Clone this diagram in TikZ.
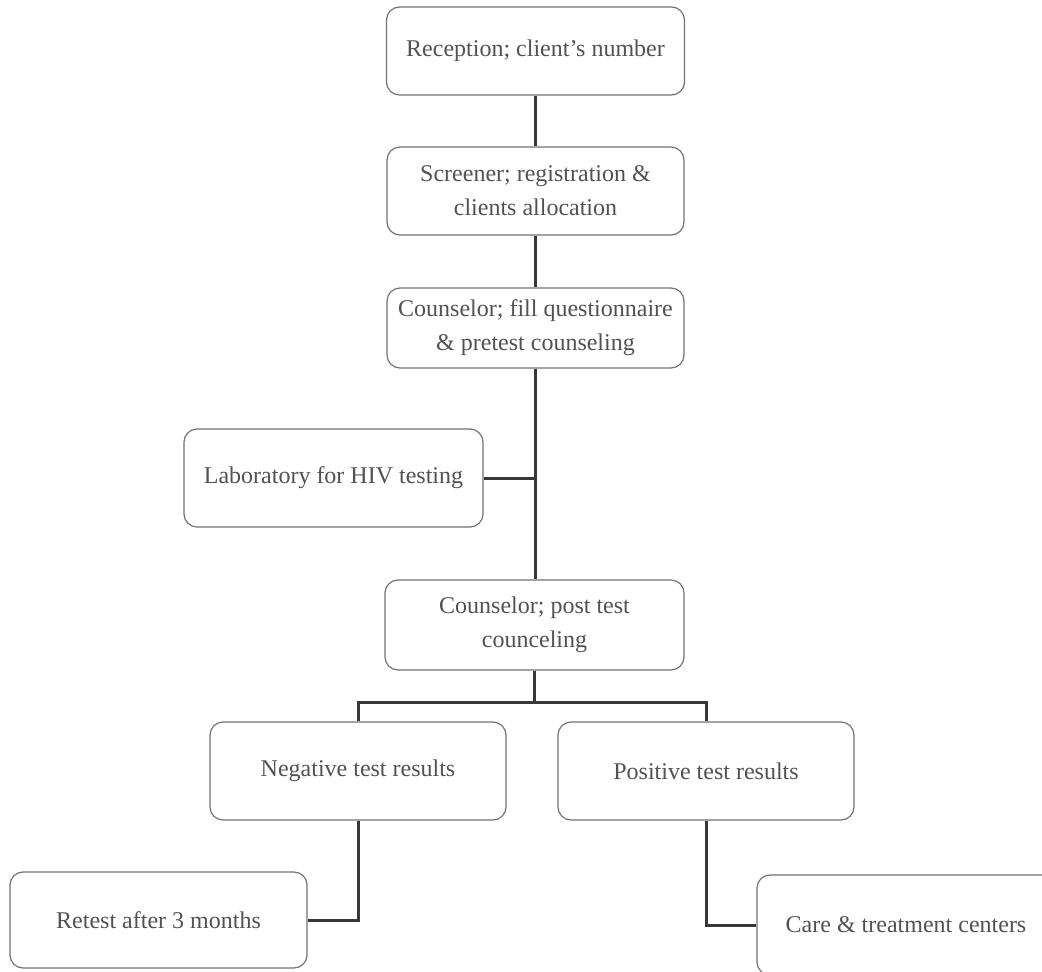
\documentclass[tikz,border=0pt]{standalone}
\usepackage{fontspec}
\setmainfont{Liberation Serif}
\begin{document}
\begin{tikzpicture}[x=1pt,y=-1pt,
  box/.style={draw=black!55, line width=1.2pt, rounded corners=13pt, align=center,
    text=black!68, font=\fontsize{24}{34}\selectfont, inner sep=0pt},
  conn/.style={draw=black!78, line width=3pt}]
\useasboundingbox (0,0) rectangle (1042,972);
\fill[white] (0,0) rectangle (1042,972);
\node[box, minimum width=298pt, minimum height=88pt] (b1) at (535.5,51) {Reception; client's number};
\node[box, minimum width=297pt, minimum height=88pt] (b2) at (535.5,191) {Screener; registration \&\\ clients allocation};
\node[box, minimum width=297pt, minimum height=80pt] (b3) at (535.5,328) {Counselor; fill questionnaire\\ \& pretest counseling};
\node[box, minimum width=299pt, minimum height=98pt] (lab) at (333.5,478) {Laboratory for HIV testing};
\node[box, minimum width=299pt, minimum height=90pt] (b5) at (534.5,625) {Counselor; post test\\ counceling};
\node[box, minimum width=296pt, minimum height=98pt] (neg) at (358,771) {Negative test results};
\node[box, minimum width=296pt, minimum height=98pt] (pos) at (706,771) {Positive test results};
\node[box, minimum width=297pt, minimum height=96pt] (ret) at (158.5,920) {Retest after 3 months};
\node[box, minimum width=298pt, minimum height=100pt] (care) at (906,925) {Care \& treatment centers};
\coordinate (bar) at (534.5,702);
\draw[conn] (b1.south) -- (b2.north);
\draw[conn] (b2.south) -- (b3.north);
\draw[conn] (b3.south) -- (b3.south |- b5.north);
\draw[conn] (lab.east) -- (lab.east -| b3.south);
\draw[conn] (b5.south) -- (bar);
\draw[conn] (neg.north) -- (neg.north |- bar) -- (pos.north |- bar) -- (pos.north);
\draw[conn] (neg.south) |- (ret.east);
\draw[conn] (pos.south) |- (care.west);
\end{tikzpicture}
\end{document}
